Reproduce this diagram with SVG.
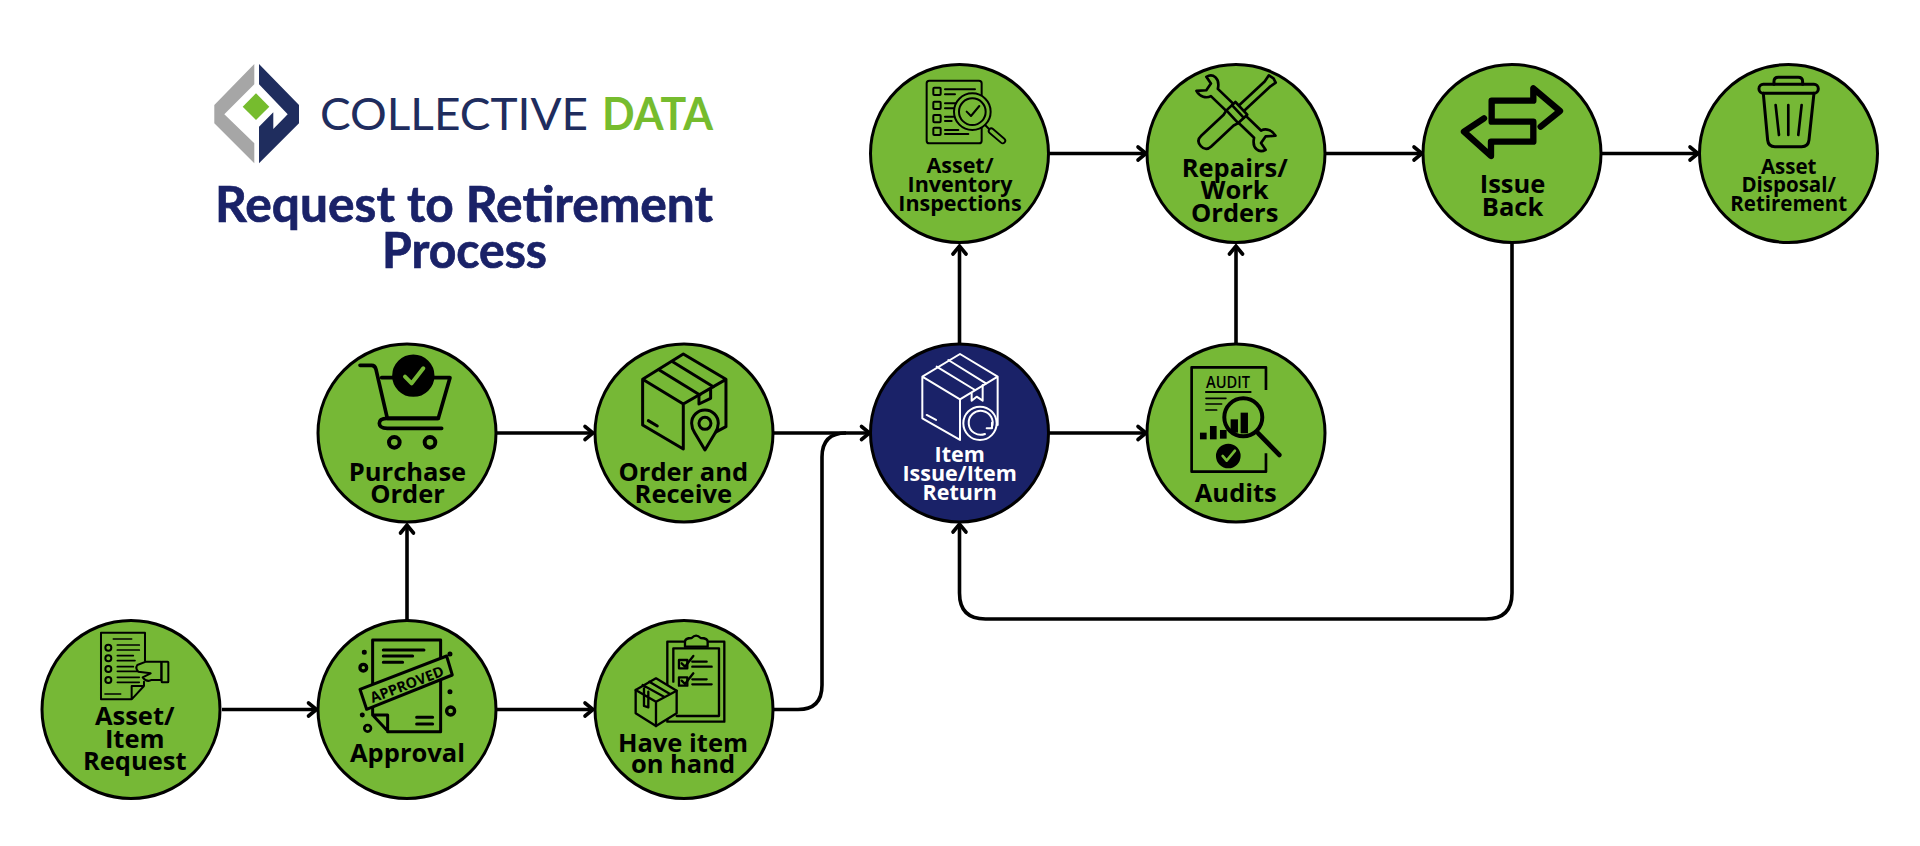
<svg xmlns="http://www.w3.org/2000/svg" width="1920" height="846" viewBox="0 0 1920 846">
<style>
.n{fill:#76b836;stroke:#000;stroke-width:3}
.nb{fill:#1a2268;stroke:#000;stroke-width:3}
.c{fill:none;stroke:#000;stroke-width:3.6;marker-end:url(#a)}
.e{fill:none;stroke:#000;stroke-width:3.6}
.l{font-family:"Open Sans",sans-serif;font-weight:700;text-anchor:middle;fill:#000}
.m{font-size:25.5px}.s{font-size:21.5px}.x{font-size:20.5px}
.w{fill:#fff}
.i{fill:none;stroke:#000;stroke-linecap:round;stroke-linejoin:round}
.iw{fill:none;stroke:#fff;stroke-linecap:round;stroke-linejoin:round;stroke-width:6}
.g{fill:#76b836}
.t{font-family:"Lato",sans-serif;font-weight:700;font-size:50px;fill:#1a2268;stroke:#1a2268;stroke-width:.7;text-anchor:start}
</style>
<defs>
<marker id="a" markerUnits="userSpaceOnUse" markerWidth="16" markerHeight="20" refX="13" refY="10" orient="auto" overflow="visible"><path d="M5,3.5 L13,10 L5,16.5" fill="none" stroke="#000" stroke-width="3.6" stroke-linecap="round" stroke-linejoin="miter"/></marker>
</defs>
<rect width="1920" height="846" fill="#fff"/>
<g id="logo">
<polygon points="254.3,64 214.3,105 214.3,123.3 254.3,163.3 254.3,143.3 224.3,114.3 254.3,84.3" fill="#a6a6a6"/>
<polygon points="259,64 299,105 299,123.3 259,163.3 259,126.7 273.3,112.3 273.3,129 287.7,114.3 259,84.3" fill="#1f2d5e"/>
<polygon points="256,93.3 269.3,106.7 256,120 242.7,106.7" fill="#76bc2e"/>
<text x="320" y="130" font-family="Lato, sans-serif" font-weight="400" font-size="45" fill="#1f2d5e" textLength="268" lengthAdjust="spacingAndGlyphs">COLLECTIVE</text>
<text x="602" y="130" font-family="Lato, sans-serif" font-weight="700" font-size="45" fill="#76bc2e" textLength="111" lengthAdjust="spacingAndGlyphs">DATA</text>
</g>
<g id="title">
<text class="t" x="215" y="221.5" textLength="498" lengthAdjust="spacingAndGlyphs">Request to Retirement</text>
<text class="t" x="382" y="267.5" textLength="165" lengthAdjust="spacingAndGlyphs">Process</text>
</g>
<g id="connectors">
<path class="c" d="M222,709.5H316.5"/>
<path class="c" d="M497,709.5H593"/>
<path class="c" d="M407,620V525"/>
<path class="c" d="M497,433H593"/>
<path class="c" d="M773,433H869.5"/>
<path class="e" d="M773,709.5H798Q822,709.5 822,685V457Q822,433 846,433"/>
<path class="c" d="M1049,433H1146"/>
<path class="c" d="M959.5,344V246"/>
<path class="c" d="M1236,344V246"/>
<path class="c" d="M1049,153.5H1146"/>
<path class="c" d="M1326,153.5H1422"/>
<path class="c" d="M1602,153.5H1698"/>
<path class="c" d="M1512,243V593Q1512,619 1486,619H985.5Q959.5,619 959.5,593V524"/>
</g>
<g id="asset-item-request">
<circle class="n" cx="131" cy="709.5" r="89"/>
<g class="i" transform="translate(20,600) scale(.3333)" stroke-width="6">
<path d="M375,182V98H243V298H335L372,258V245M335,298V258H372"/>
<circle cx="265" cy="143" r="9"/><circle cx="265" cy="175" r="9"/><circle cx="265" cy="207" r="9"/><circle cx="265" cy="240" r="9"/>
<path d="M280,117H335M292,135H358M292,150H358M292,167H340M292,182H345M292,200H340M292,214H355M292,232H358M292,247H358M255,282H302" stroke-width="5"/>
<path class="g" d="M352,195L378,185H424V240H395Q380,248 368,232L392,220L355,215Q345,205 352,195Z"/>
<rect class="g" x="425" y="185" width="20" height="62" rx="2"/>
</g>
<text class="l m" x="134.7" y="725.3">Asset/</text><text class="l m" x="134.7" y="747.7">Item</text><text class="l m" x="134.7" y="770">Request</text>
</g>
<g id="approval">
<circle class="n" cx="407" cy="709.5" r="89"/>
<g class="i" transform="translate(20,600) scale(.3333)" stroke-width="9">
<path d="M1058,345V120H1262V395H1105L1058,345H1103V395"/>
<path d="M1090,150H1212M1090,168H1178M1090,187H1148M1190,352H1238M1190,372H1238" stroke-width="9"/>
<polygon class="g" points="1020,268 1280,168 1297,225 1040,328"/>
<circle cx="1033" cy="157" r="3" fill="#000"/><circle cx="1290" cy="162" r="3" fill="#000"/><circle cx="1290" cy="275" r="3" fill="#000"/><circle cx="1027" cy="345" r="3" fill="#000"/>
<circle cx="1030" cy="203" r="10" stroke-width="10"/><circle cx="1292" cy="333" r="12" stroke-width="10"/><circle cx="1043" cy="385" r="10" stroke-width="8"/>
</g>
<text transform="translate(407,684.5) rotate(-21)" font-family="Open Sans, sans-serif" font-size="14.5" font-weight="700" text-anchor="middle" fill="#000" y="5">APPROVED</text>
<text class="l m" x="407.5" y="762.3">Approval</text>
</g>
<g id="have-item">
<circle class="n" cx="684" cy="709.5" r="89"/>
<g class="i" transform="translate(580,600) scale(.3333)" stroke-width="7">
<path d="M315,125H262V365H433V125H383"/>
<path class="g" d="M315,140V125Q315,114 335,114Q348,100 362,114Q383,114 383,125V140Z"/>
<path d="M290,348H417V145H280V245"/>
<rect x="297" y="180" width="25" height="25"/><rect x="297" y="232" width="25" height="25"/>
<path d="M305,190L315,200L340,168M305,242L315,252L340,220M337,185H380M337,200H395M337,238H380M337,253H395"/>
<path class="g" d="M228,235L290,272V340L228,378L167,340V270Z"/>
<path d="M167,270L228,305L290,272M228,305V378M188,255L252,290M208,245L270,282M192,265V318L205,322V275"/>
</g>
<text class="l m" x="683" y="751.7">Have item</text><text class="l m" x="683" y="773.3">on hand</text>
</g>
<g id="purchase-order">
<circle class="n" cx="407" cy="433" r="89"/>
<g class="i" transform="translate(300,330) scale(.3333)" stroke-width="11">
<path d="M180,106H215Q225,106 228,118L262,265H415L450,143H245"/>
<path d="M415,265H262Q238,265 238,280Q238,295 262,295H425"/>
<circle cx="340" cy="137" r="58" fill="#000"/>
<path d="M315,140L335,160L370,115" stroke="#76b836" stroke-width="12"/>
<circle cx="283" cy="337" r="16" stroke-width="12"/><circle cx="390" cy="337" r="16" stroke-width="12"/>
</g>
<text class="l m" x="407.5" y="480.7">Purchase</text><text class="l m" x="407.5" y="502.7">Order</text>
</g>
<g id="order-receive">
<circle class="n" cx="684" cy="433" r="89"/>
<g class="i" transform="translate(300,330) scale(.3333)" stroke-width="9">
<path d="M1150,72L1278,148L1150,222L1028,148ZM1028,148V285L1150,357V222M1278,148V290L1240,310"/>
<path d="M1078,120L1200,195M1118,95L1240,170M1197,195V222L1232,205V178M1045,272L1072,288"/>
<path class="g" d="M1215,360L1185,310Q1175,295 1175,280A40,40 0 1 1 1255,280Q1255,295 1245,310Z"/>
<circle cx="1215" cy="280" r="18"/>
</g>
<text class="l m" x="683.3" y="480.7">Order and</text><text class="l m" x="683.3" y="502.7">Receive</text>
</g>
<g id="item-issue-return">
<circle class="nb" cx="959.5" cy="433" r="89"/>
<g class="iw" transform="translate(860,330) scale(.3333)">
<path d="M300,72L413,140L300,208L187,140ZM187,140V265L300,330V208M413,140V285"/>
<path d="M230,110L345,180M265,90L378,160M335,190V212L350,200L368,212V165M200,255L228,270"/>
<circle cx="360" cy="280" r="50" fill="#1a2268"/>
<path d="M395,293A36,36 0 1 0 375,312M396,278L396,295L380,295"/>
</g>
<text class="l s w" x="959.7" y="461.7">Item</text><text class="l s w" x="959.7" y="480.7">Issue/Item</text><text class="l s w" x="959.7" y="500">Return</text>
</g>
<g id="audits">
<circle class="n" cx="1236" cy="433" r="89"/>
<g class="i" transform="translate(860,330) scale(.3333)" stroke-width="8" stroke-linecap="butt">
<path d="M1218,180V112H995V425H1218V370" stroke-linecap="butt"/>
<path d="M1038,186H1172" stroke-width="6"/>
<path d="M1038,205H1098M1038,222H1085M1038,240H1070" stroke-width="5"/>
<rect x="1020" y="308" width="20" height="20" fill="#000" stroke="none"/><rect x="1050" y="288" width="20" height="40" fill="#000" stroke="none"/><rect x="1080" y="300" width="20" height="26" fill="#000" stroke="none"/>
<circle class="g" cx="1150" cy="262" r="57" stroke-width="12"/>
<rect x="1112" y="268" width="22" height="40" fill="#000" stroke="none"/><rect x="1142" y="248" width="22" height="62" fill="#000" stroke="none"/>
<path d="M1195,310L1258,375" stroke-width="14"/>
<circle cx="1105" cy="378" r="33" fill="#000"/>
<path d="M1088,378L1100,392L1125,362" stroke="#76b836" stroke-width="8"/>
</g>
<text x="1228" y="387.5" font-family="Open Sans, sans-serif" font-size="17" font-weight="600" text-anchor="middle" fill="#000" textLength="44" lengthAdjust="spacingAndGlyphs">AUDIT</text>
<text class="l m" x="1235.8" y="502.3">Audits</text>
</g>
<g id="inspections">
<circle class="n" cx="959.5" cy="153.5" r="89"/>
<g class="i" transform="translate(860,50) scale(.3333)" stroke-width="6">
<rect x="200" y="92" width="165" height="188" rx="8"/>
<rect x="220" y="113" width="22" height="22" rx="3"/><rect x="220" y="155" width="22" height="22" rx="3"/><rect x="220" y="195" width="22" height="22" rx="3"/><rect x="220" y="233" width="22" height="22" rx="3"/>
<path d="M255,118H345M255,133H285M255,160H290M255,175H280M255,200H280M255,213H275M255,240H295M255,252H325"/>
<circle class="g" cx="337" cy="185" r="55" stroke-width="6"/><circle cx="337" cy="185" r="40"/>
<path d="M320,185L333,198L358,168"/>
<path d="M376,226L394,244"/>
<path d="M394,243L428,272" stroke-width="21"/><path d="M394,243L428,272" stroke="#76b836" stroke-width="10"/>
</g>
<text class="l s" x="960" y="172.7">Asset/</text><text class="l s" x="960" y="192.3">Inventory</text><text class="l s" x="960" y="211">Inspections</text>
</g>
<g id="repairs">
<circle class="n" cx="1236" cy="153.5" r="89"/>
<g class="i" transform="translate(860,50) scale(.3333)" stroke-width="8">
<g transform="translate(1128,190) rotate(44)">
<path class="g" d="M-90,-15H90C95,-30 112,-40 132,-34L112,-12L116,12L140,17C134,38 108,44 90,15H-90C-95,30 -112,40 -132,34L-112,12L-116,-12L-140,-17C-134,-38 -108,-44 -90,-15Z"/>
</g>
<g transform="translate(1128,190) rotate(-43)">
<path class="g" d="M20,-11H128L150,-16L154,0L150,14L128,11H20Z"/>
<path class="g" d="M-122,-22H-30L-15,-26H22V26H-15L-30,22H-122Q-144,22 -144,0Q-144,-22 -122,-22Z"/>
<path d="M-15,-26V26M8,-26V26"/>
</g>
</g>
<text class="l m" x="1234.7" y="176.7">Repairs/</text><text class="l m" x="1234.7" y="199.3">Work</text><text class="l m" x="1234.7" y="222.3">Orders</text>
</g>
<g id="issue-back">
<circle class="n" cx="1512" cy="153.5" r="89"/>
<path class="i" transform="translate(1410,50) scale(.3333)" stroke-width="19" d="M392,230L450,183L370,115V152H245V215H370V275H243V318L162,245L222,205"/>
<text class="l m" x="1512.5" y="193.3">Issue</text><text class="l m" x="1512.5" y="215.7">Back</text>
</g>
<g id="disposal">
<circle class="n" cx="1788.5" cy="153.5" r="89"/>
<g class="i" transform="translate(1410,50) scale(.3333)" stroke-width="9">
<path d="M1092,103V95Q1092,82 1105,82H1165Q1178,82 1178,95V103"/>
<rect x="1047" y="103" width="178" height="27" rx="13"/>
<path d="M1060,130L1073,270Q1075,290 1095,290H1175Q1195,290 1197,270L1212,130"/>
<path d="M1097,165L1107,255M1135,165V255M1175,165L1165,255" stroke-width="8"/>
</g>
<text class="l x" x="1788.7" y="174">Asset</text><text class="l x" x="1788.7" y="191.7">Disposal/</text><text class="l x" x="1788.7" y="211">Retirement</text>
</g>
</svg>
